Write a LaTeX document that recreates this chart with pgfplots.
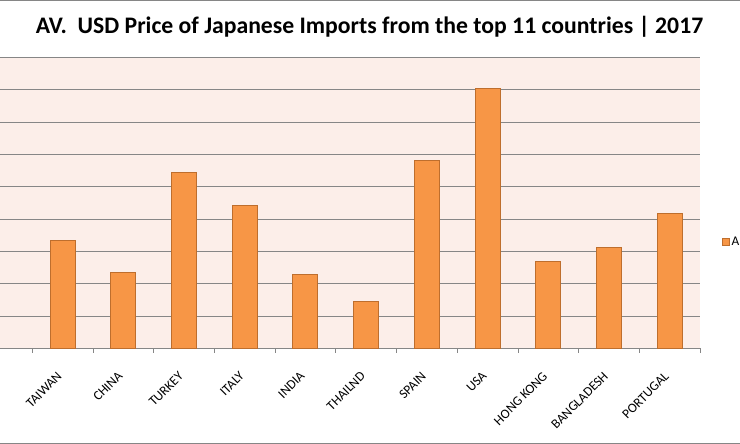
\documentclass[border=0pt]{standalone}
\usepackage{pgfplots}
\pgfplotsset{compat=1.18}
\usepackage{fontspec}
\setmainfont{Carlito}
\definecolor{barfill}{RGB}{247,150,70}
\definecolor{bardraw}{RGB}{190,110,45}
\definecolor{plotbg}{RGB}{252,238,233}
\definecolor{gridgray}{RGB}{134,134,134}
\begin{document}
\begin{tikzpicture}
\begin{axis}[
  at={(0bp,95.7bp)}, anchor=south west,
  scale only axis, width=700bp, height=291bp,
  xmin=-1.032, xmax=10.5, ymin=0, ymax=9,
  axis background/.style={fill=plotbg},
  axis x line*=bottom, axis y line*=left,
  x axis line style={draw=gridgray, line width=0.8bp, -},
  y axis line style={draw=none},
  ytick={0,1,...,9}, yticklabels={},
  major y tick style={draw=none},
  ymajorgrids, grid style={draw=gridgray, line width=0.8bp},
  xtick={0,1,...,10},
  xticklabels={TAIWAN,CHINA,TURKEY,ITALY,INDIA,THAILND,SPAIN,USA,HONG KONG,BANGLADESH,PORTUGAL},
  major x tick style={draw=none},
  minor xtick={-0.5,0.5,...,10.5},
  minor x tick style={draw=gridgray, line width=0.8bp},
  minor tick length=4.5bp,
  xtick align=outside,
  xticklabel style={rotate=45, anchor=base east, font=\fontsize{13.3bp}{16bp}\selectfont, inner sep=0pt, xshift=-17.32bp, yshift=-17.32bp},
  ybar, bar width=25bp,
  legend style={at={(1.0314,0.3653)}, anchor=west, draw=none, fill=none, inner sep=0pt, font=\fontsize{13.3bp}{16bp}\selectfont},
  legend image code/.code={\fill[barfill,draw=bardraw,line width=0.4bp] (0bp,-3.5bp) rectangle (7bp,3.5bp);},
  clip=false,
]
\addplot[fill=barfill, draw=bardraw, line width=1bp] coordinates {
  (0,3.34) (1,2.35) (2,5.43) (3,4.41) (4,2.28) (5,1.45) (6,5.80) (7,8.02) (8,2.69) (9,3.12) (10,4.17)
};
\legend{A}
\end{axis}
\node[anchor=base, inner sep=0pt, font=\bfseries\fontsize{23.7bp}{28bp}\selectfont] at (369.5bp,410bp) {AV.~ USD Price of Japanese Imports from the top 11 countries | 2017};
\draw[gridgray, line width=1bp] (0bp,443.5bp) -- (740bp,443.5bp);
\draw[gridgray, line width=1bp] (0bp,0.5bp) -- (740bp,0.5bp);
\pgfresetboundingbox
\path[use as bounding box] (0bp,0bp) rectangle (740bp,444bp);
\end{tikzpicture}
\end{document}
